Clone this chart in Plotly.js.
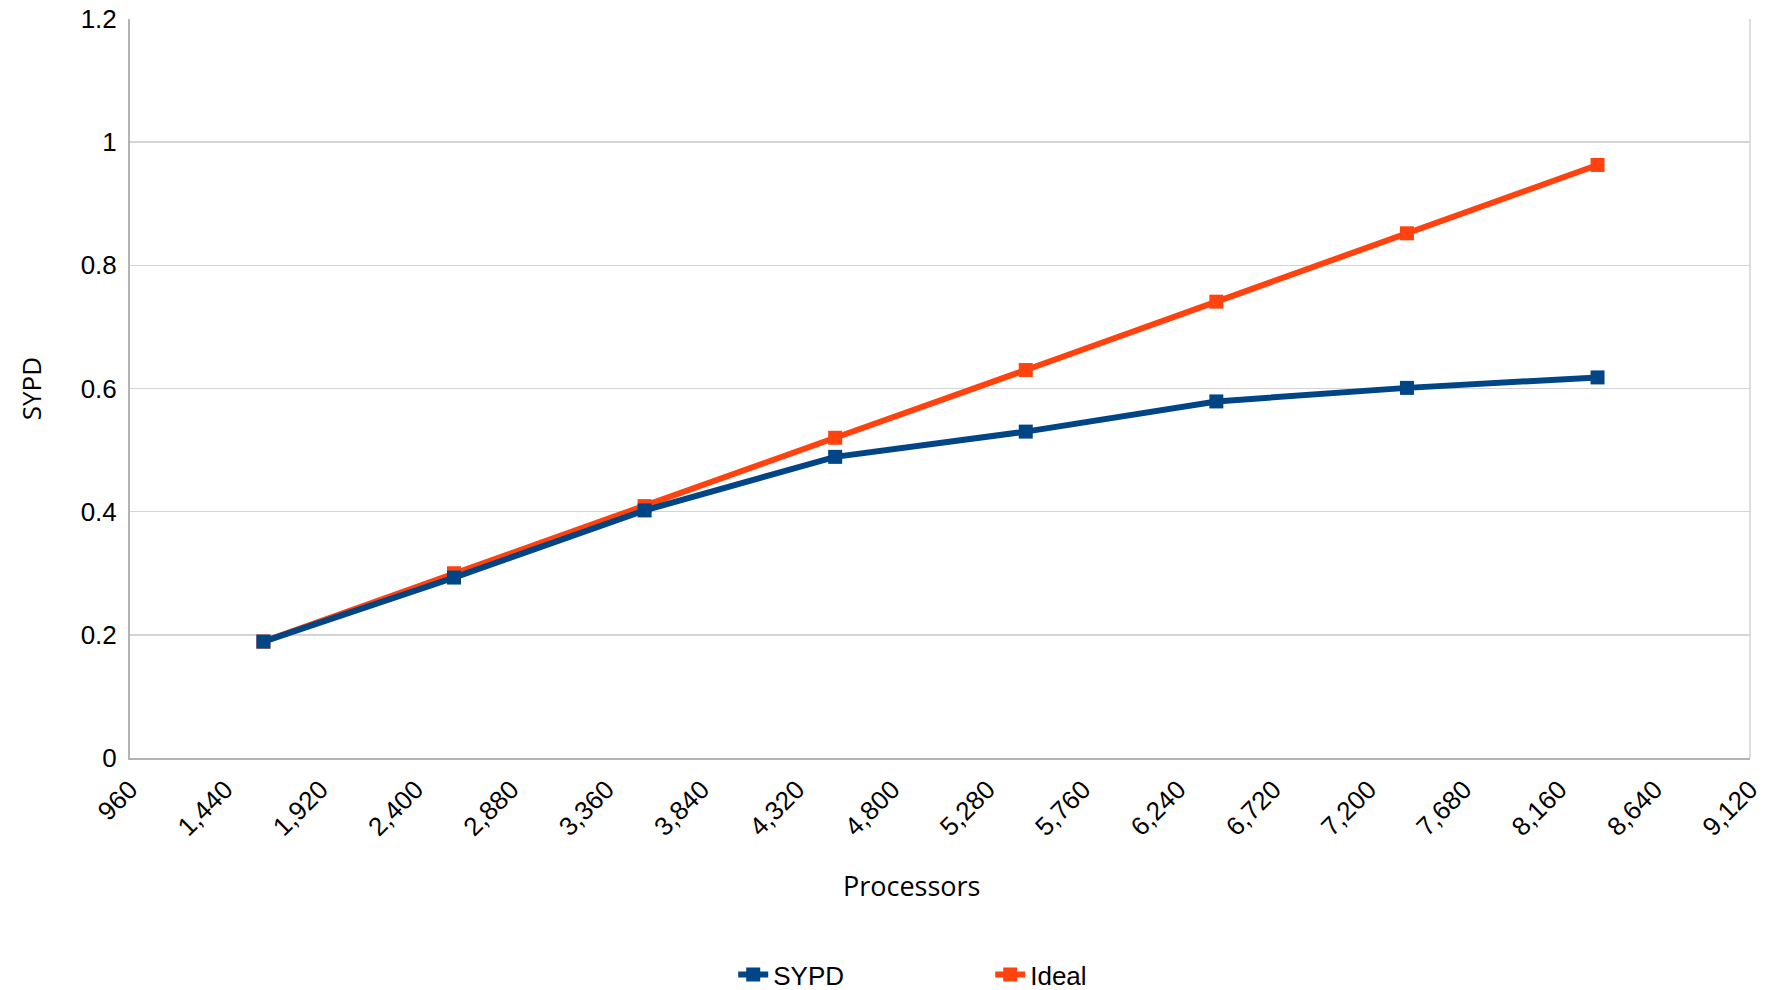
<!DOCTYPE html>
<html>
<head>
<meta charset="utf-8">
<script src="https://cdn.plot.ly/plotly-3.0.1.min.js"></script>
<style>html,body{margin:0;padding:0;background:#fff;}#chart{width:1772px;height:990px;}</style>
</head>
<body>
<div id="chart"></div>
<script>
const processors = [1632, 2592, 3552, 4512, 5472, 6432, 7392, 8352];
const sypd = [0.189, 0.293, 0.402, 0.489, 0.530, 0.579, 0.601, 0.618];
const ideal = [0.189, 0.300, 0.409, 0.520, 0.630, 0.741, 0.852, 0.963];
const seriesNames = ["SYPD", "Ideal"];
const xTitle = "Processors";
const yTitle = "SYPD";

const traces = [
  {x: processors, y: sypd, name: seriesNames[0], type: "scatter", mode: "lines+markers",
   line: {color: "#004586", width: 6}, marker: {symbol: "square", size: 14, color: "#004586"}},
  {x: processors, y: ideal, name: seriesNames[1], type: "scatter", mode: "lines+markers",
   line: {color: "#ff420e", width: 6}, marker: {symbol: "square", size: 14, color: "#ff420e"}}
];
// draw SYPD on top like the reference
const data = [traces[1], traces[0]];

const layout = {
  width: 1772, height: 990,
  margin: {l: 130, r: 22, t: 19, b: 232, autoexpand: false},
  paper_bgcolor: "#fff", plot_bgcolor: "#fff",
  font: {family: "Liberation Sans, Arial, sans-serif", size: 26, color: "#000"},
  showlegend: true,
  legend: {orientation: "h", x: 0.531, xanchor: "center", y: -0.293, yanchor: "middle",
           traceorder: "reversed", entrywidth: 212, font: {size: 26}},
  xaxis: {range: [960, 9120], tick0: 960, dtick: 480, tickformat: ",d", tickangle: -45,
          showgrid: false, zeroline: false, showline: true, linecolor: "#b3b3b3", linewidth: 2,
          mirror: false, ticks: "", ticklabelstandoff: 4, automargin: false},
  yaxis: {range: [0, 1.2], dtick: 0.2, showgrid: true, gridcolor: "#d4d4d4", gridwidth: 1.5,
          zeroline: false, showline: true, linecolor: "#b3b3b3", linewidth: 2, mirror: false,
          ticks: "", ticklabelstandoff: 6, automargin: false,
          title: {text: yTitle, font: {family: "Open Sans, sans-serif", size: 26}, standoff: 32}},
  annotations: [
    {text: xTitle, xref: "paper", yref: "paper", x: 0.483, y: -0.172, xanchor: "center", yanchor: "middle",
     showarrow: false, font: {family: "Open Sans, sans-serif", size: 27, color: "#000"}}
  ],
  shapes: [
    {type: "line", xref: "paper", yref: "paper", x0: 1, x1: 1, y0: 0, y1: 1,
     line: {color: "#d4d4d4", width: 1.5}}
  ]
};

Plotly.newPlot("chart", data, layout, {displayModeBar: false, staticPlot: true});
</script>
</body>
</html>
